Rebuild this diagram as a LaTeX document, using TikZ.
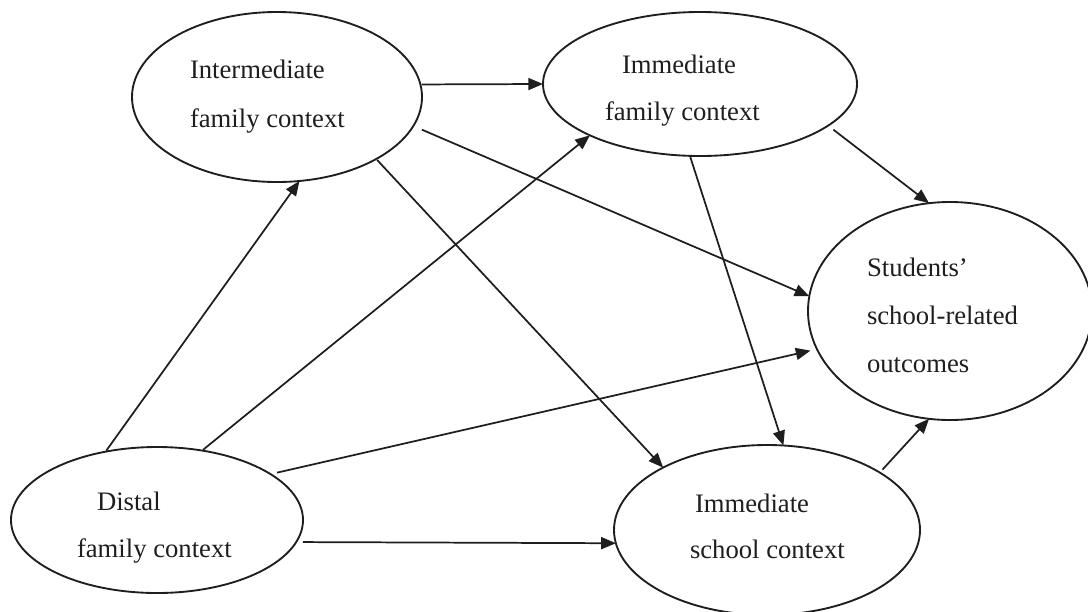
\documentclass[tikz,border=0pt]{standalone}
\usepackage{fontspec}
\setmainfont{Liberation Serif}
\usetikzlibrary{shapes.geometric,arrows.meta}
\definecolor{ink}{HTML}{1E1E1E}
\tikzset{
  ctx/.style={ellipse, draw=ink, line width=1.4pt, inner sep=0pt, outer sep=0pt},
  lbl/.style={anchor=base west, inner sep=0pt, outer sep=0pt, text=ink, font=\fontsize{20}{24}\selectfont},
  conn/.style={draw=ink, line width=1.3pt, -{Triangle[length=11pt,width=9pt]}, shorten <=1pt}
}
\begin{document}
\begin{tikzpicture}[x=0.75pt,y=-0.75pt]
\useasboundingbox (0,0) rectangle (1088,611);
% ellipses
\node[ctx, minimum width=290*0.75pt, minimum height=170*0.75pt] (inter) at (277,97) {};
\node[ctx, minimum width=314*0.75pt, minimum height=144*0.75pt] (immfam) at (700,84) {};
\node[ctx, minimum width=284*0.75pt, minimum height=218*0.75pt] (stud) at (950,311) {};
\node[ctx, minimum width=292*0.75pt, minimum height=146*0.75pt] (distal) at (157,520) {};
\node[ctx, minimum width=306*0.75pt, minimum height=170*0.75pt] (immsch) at (767,530) {};
% labels
\node[lbl] (t1a) at (190,78) {Intermediate};
\node[lbl] (t1b) at (190,127) {family context};
\node[lbl] (t2a) at (622,73) {Immediate};
\node[lbl] (t2b) at (605,120) {family context};
\node[lbl] (t3a) at (867,276) {Students’};
\node[lbl] (t3b) at (867,324) {school-related};
\node[lbl] (t3c) at (867,372) {outcomes};
\node[lbl] (t4a) at (97,510) {Distal};
\node[lbl] (t4b) at (77,557) {family context};
\node[lbl] (t5a) at (695,512) {Immediate};
\node[lbl] (t5b) at (690,558) {school context};
% connectors
\draw[conn] (inter.5) -- (immfam.180);
\draw[conn, shorten <=7pt] (inter.-12.9) -- (stud.174.8);
\draw[conn] (inter.-32) -- (immsch.149.4);
\draw[conn, shorten <=5pt] (immfam.-18.5) -- (stud.101.9);
\draw[conn] (immfam.-98) -- (immsch.79.6);
\draw[conn] (distal.127.4) -- (inter.-75.4);
\draw[conn] (distal.57.1) -- (immfam.-155.6);
\draw[conn, shorten <=5pt, shorten >=5pt] (distal.22.2) -- (stud.-164.6);
\draw[conn, shorten <=5pt] (distal.-9.87) -- (immsch.-175.6);
\draw[conn, shorten <=3pt] (immsch.27.7) -- (stud.-101.2);
\end{tikzpicture}
\end{document}
